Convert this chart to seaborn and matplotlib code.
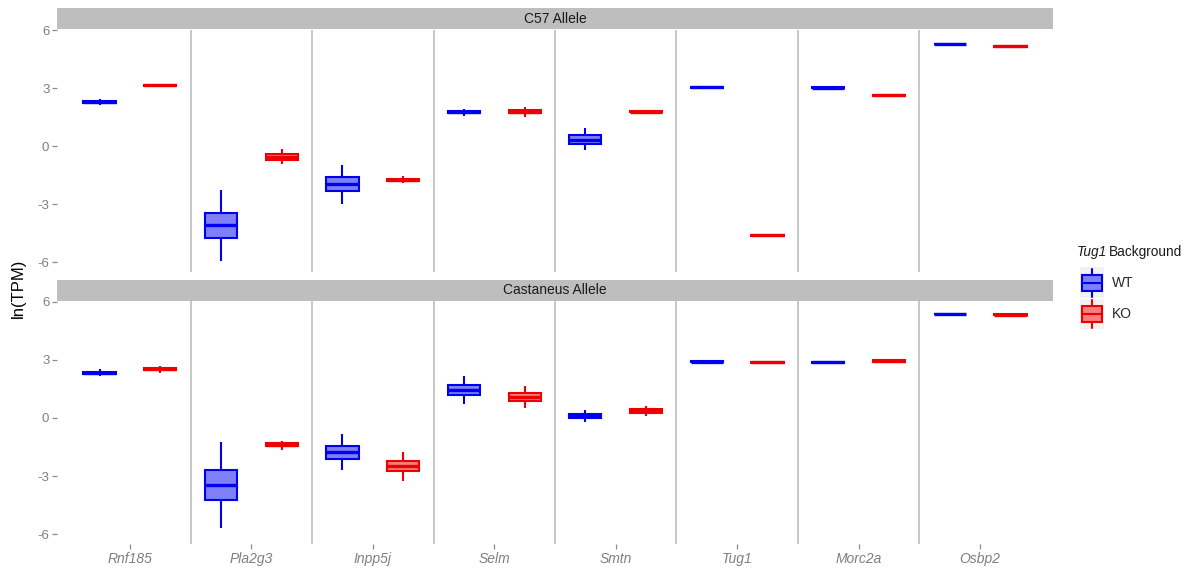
import numpy as np
import pandas as pd
import matplotlib
matplotlib.use("Agg")
import matplotlib.pyplot as plt
from matplotlib.patches import Rectangle
from matplotlib.lines import Line2D
from matplotlib.legend_handler import HandlerBase
from matplotlib.text import Annotation
import seaborn as sns

# Genes on the x axis
genes = ["Rnf185", "Pla2g3", "Inpp5j", "Selm", "Smtn", "Tug1", "Morc2a", "Osbp2"]
alleles = ["C57 Allele", "Castaneus Allele"]
backgrounds = ["WT", "KO"]

# Five-number summaries per gene: [min, q1, median, q3, max] of ln(TPM)
c57_wt = [
    [2.12, 2.24, 2.29, 2.33, 2.45],
    [-5.93, -4.74, -4.09, -3.46, -2.25],
    [-2.97, -2.34, -1.94, -1.60, -0.96],
    [1.55, 1.70, 1.75, 1.80, 1.94],
    [-0.22, 0.10, 0.34, 0.58, 0.93],
    [2.98, 3.01, 3.04, 3.07, 3.10],
    [3.00, 3.01, 3.03, 3.05, 3.06],
    [5.26, 5.27, 5.28, 5.29, 5.30],
]
c57_ko = [
    [3.11, 3.13, 3.15, 3.17, 3.19],
    [-0.91, -0.70, -0.55, -0.40, -0.14],
    [-1.91, -1.80, -1.74, -1.67, -1.56],
    [1.51, 1.70, 1.79, 1.88, 2.05],
    [1.75, 1.77, 1.79, 1.81, 1.83],
    [-4.65, -4.63, -4.61, -4.59, -4.57],
    [2.59, 2.61, 2.63, 2.65, 2.67],
    [5.12, 5.14, 5.16, 5.18, 5.20],
]
cast_wt = [
    [2.17, 2.29, 2.34, 2.38, 2.51],
    [-5.67, -4.21, -3.46, -2.70, -1.25],
    [-2.70, -2.11, -1.77, -1.43, -0.84],
    [0.74, 1.19, 1.44, 1.70, 2.15],
    [-0.21, 0.00, 0.10, 0.22, 0.41],
    [2.80, 2.86, 2.89, 2.92, 2.98],
    [2.84, 2.85, 2.87, 2.89, 2.90],
    [5.30, 5.34, 5.36, 5.38, 5.42],
]
cast_ko = [
    [2.34, 2.48, 2.53, 2.58, 2.70],
    [-1.63, -1.47, -1.38, -1.29, -1.17],
    [-3.25, -2.74, -2.49, -2.24, -1.75],
    [0.52, 0.88, 1.08, 1.27, 1.63],
    [0.10, 0.28, 0.36, 0.44, 0.60],
    [2.83, 2.85, 2.87, 2.89, 2.91],
    [2.86, 2.91, 2.94, 2.97, 3.02],
    [5.29, 5.31, 5.33, 5.35, 5.37],
]
y_ticks = [-6, -3, 0, 3, 6]

summaries = {
    ("C57 Allele", "WT"): c57_wt,
    ("C57 Allele", "KO"): c57_ko,
    ("Castaneus Allele", "WT"): cast_wt,
    ("Castaneus Allele", "KO"): cast_ko,
}

rows = []
for (allele, bg), table in summaries.items():
    for gene, vals in zip(genes, table):
        for v in vals:
            rows.append({"allele": allele, "bg": bg, "gene": gene, "value": v})
df = pd.DataFrame(rows)

sns.set_theme(style="white")
plt.rcParams["font.family"] = ["Liberation Sans", "DejaVu Sans"]
plt.rcParams["axes.unicode_minus"] = False

edge = {"WT": "#0000ee", "KO": "#ee0000"}
fill = {"WT": "#7f7ff7", "KO": "#f77f7f"}
grey_txt = "#7f7f7f"

W, H = 1190, 573
fig = plt.figure(figsize=(W / 100, H / 100), dpi=100)

def fx(px):
    return px / W

def fy(py):
    return 1 - py / H

panel_left, panel_right = 57, 1053
panels = [(29.5, 272.0, 8.0), (301.0, 544.0, 279.5)]

for i, (allele, (top, bot, strip_top)) in enumerate(zip(alleles, panels)):
    ax = fig.add_axes([fx(panel_left), fy(bot), fx(panel_right - panel_left), (bot - top) / H])
    sub = df[df["allele"] == allele]
    sns.boxplot(
        data=sub, x="gene", y="value", hue="bg",
        order=genes, hue_order=backgrounds, palette=fill,
        whis=np.inf, showcaps=False, width=1.0, gap=0.47,
        linewidth=1.5, saturation=1, legend=False, ax=ax,
        medianprops={"linewidth": 2.4},
    )
    for cont, bg in zip(ax.containers, backgrounds):
        for b in cont.boxes:
            b.set_edgecolor(edge[bg])
        for ln in list(cont.whiskers) + list(cont.medians):
            ln.set_color(edge[bg])

    for k in range(len(genes) - 1):
        ax.axvline(k + 0.5, color="#bdbdbd", lw=1.2, zorder=0)

    ax.set_xlim(-0.6, len(genes) - 0.4)
    ax.set_ylim(-6.5, 6.03)
    ax.set_yticks(y_ticks)
    ax.set_yticklabels([str(t) for t in y_ticks], color=grey_txt, fontsize=9.5)
    ax.set_xlabel("")
    ax.set_ylabel("")
    for s in ax.spines.values():
        s.set_visible(False)
    ax.tick_params(axis="y", left=True, length=3.5, width=0.9, color="#8c8c8c", pad=2)
    if i == 0:
        ax.tick_params(axis="x", bottom=False, labelbottom=False)
    else:
        ax.tick_params(axis="x", bottom=True, length=3.5, width=0.9, color="#8c8c8c", pad=2)
        ax.set_xticks(range(len(genes)))
        ax.set_xticklabels(genes, fontstyle="italic", color=grey_txt, fontsize=10)

    sax = fig.add_axes([fx(panel_left), fy(top - 0.5), fx(panel_right - panel_left), (top - 0.5 - strip_top) / H])
    sax.set_facecolor("#bebebe")
    sax.set_xticks([])
    sax.set_yticks([])
    for s in sax.spines.values():
        s.set_visible(False)
    sax.text(0.5, 0.48, allele, ha="center", va="center", fontsize=10, color="#1a1a1a",
             transform=sax.transAxes)

fig.text(fx(18), fy(288), "ln(TPM)", rotation=90, ha="center", va="center", fontsize=12, color="black")


class BoxKey(HandlerBase):
    def create_artists(self, legend, orig_handle, xdescent, ydescent, width, height, fontsize, trans):
        ec, fc = orig_handle
        x0, y0 = -xdescent, -ydescent
        arts = [Rectangle((x0, y0), width, height, facecolor="#f2f2f2", edgecolor="none", transform=trans)]
        cx = x0 + width / 2
        arts.append(Line2D([cx, cx], [y0 + 0.04 * height, y0 + 0.96 * height], color=ec, lw=1.5, transform=trans))
        arts.append(Rectangle((x0 + 0.08 * width, y0 + 0.24 * height), 0.84 * width, 0.52 * height,
                              facecolor=fc, edgecolor=ec, lw=1.5, transform=trans))
        arts.append(Line2D([x0 + 0.08 * width, x0 + 0.92 * width], [y0 + 0.5 * height] * 2,
                           color=ec, lw=1.5, transform=trans))
        return arts


handles = [(edge[b], fill[b]) for b in backgrounds]
leg = fig.legend(handles, backgrounds, handler_map={tuple: BoxKey()},
                 loc="upper left", bbox_to_anchor=(fx(1072), fy(259)),
                 frameon=False, fontsize=10, handlelength=1.7, handleheight=3.0,
                 handletextpad=0.6, labelspacing=0.05, borderpad=0.1)

# Legend title: italic gene name followed by plain text
t1 = fig.text(fx(1077), fy(252), "Tug1", fontstyle="italic", fontsize=9.8, color="#1a1a1a",
              ha="left", va="center")
an = Annotation("Background", xy=(1, 0.5), xycoords=t1, xytext=(1.5, 0), textcoords="offset points",
                ha="left", va="center", fontsize=9.8, color="#1a1a1a")
fig.add_artist(an)

fig.savefig("out.png", dpi=100)
